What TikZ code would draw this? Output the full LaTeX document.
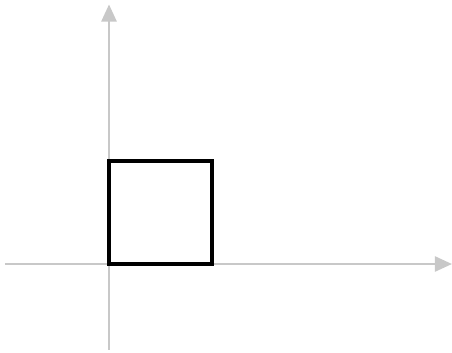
\documentclass[tikz,border=0pt]{standalone}
\usepackage{tikz}
\usetikzlibrary{arrows.meta}
\definecolor{axisgray}{RGB}{200,200,200}
\begin{document}
\begin{tikzpicture}[scale=2,
    axis/.style={draw=axisgray,line width=1pt,-{Triangle[width=8.5pt,length=9.5pt]}},
    unitsquare/.style={draw=black,line width=2.2pt}]
        \useasboundingbox (-1.0585,-0.864) rectangle (3.3305,2.5635);
        \draw[axis] (-1.01,0) -- (3.33,0);
        \draw[axis] (0,-0.835) -- (0,2.52);
        \draw[unitsquare] (0,0) rectangle (1,1);
      \end{tikzpicture}
\end{document}
